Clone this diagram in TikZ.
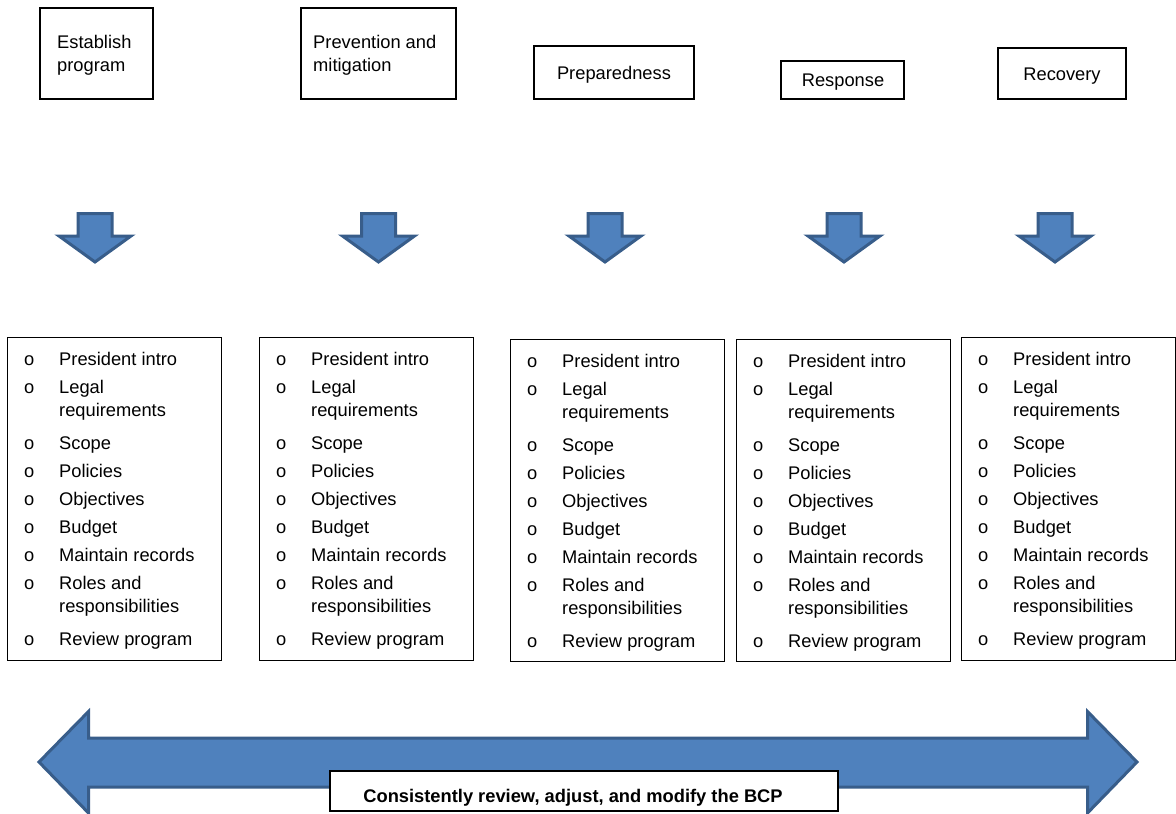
\documentclass[tikz,border=0pt]{standalone}
\usepackage{fontspec}
\setmainfont{Liberation Sans}
\definecolor{arrowfill}{HTML}{4F81BD}
\definecolor{arrowline}{HTML}{385D8A}
\newcommand\mylist[3]{%
  \foreach \t/\yy/\bb [count=\k] in {{President intro}/365/o, {Legal}/393/o, {requirements}/416/{}, {Scope}/449/o, {Policies}/477/o, {Objectives}/505/o, {Budget}/533/o, {Maintain records}/561/o, {Roles and}/589/o, {responsibilities}/612/{}, {Review program}/645/o} {
    \node[bul] (#1b\k) at (#2+17,\yy+#3) {\bb};
    \node[txt] (#1t\k) at (#2+52,\yy+#3) {\t};
  }}
\begin{document}
\begin{tikzpicture}[x=1pt,y=-1pt,
  box/.style={draw,line width=1.4pt,inner sep=0pt},
  topbox/.style={box},
  txt/.style={inner sep=0pt,font=\fontsize{18.3}{23}\selectfont,anchor=base west},
  bul/.style={inner sep=0pt,font=\fontsize{18.3}{23}\selectfont,anchor=base west},
  bluearrow/.style={fill=arrowfill,draw=arrowline,line width=3pt,line join=miter},
]
\useasboundingbox (0,0) rectangle (1176,814);
\fill[white] (0,0) rectangle (1176,814);

% top boxes
\node[topbox,minimum width=113,minimum height=91] (s1) at (96.5,53.5) {};
\node[topbox,minimum width=155,minimum height=91] (s2) at (378.5,53.5) {};
\node[topbox,minimum width=160,minimum height=53] (s3) at (614,72.5) {};
\node[topbox,minimum width=123,minimum height=38] (s4) at (842.5,80) {};
\node[topbox,minimum width=128,minimum height=51] (s5) at (1062,73.5) {};
\node[txt] (s1a) at (57,48) {Establish};
\node[txt] (s1b) at (57,71) {program};
\node[txt] (s2a) at (313,48) {Prevention and};
\node[txt] (s2b) at (313,71) {mitigation};
\node[txt,anchor=base] (s3a) at (614,79) {Preparedness};
\node[txt,anchor=base] (s4a) at (843,86) {Response};
\node[txt,anchor=base] (s5a) at (1062,80) {Recovery};

% down arrows
\foreach \c in {95,378.5,605,844,1055} {
  \draw[bluearrow] (\c-17,213.5) -- (\c+17,213.5) -- (\c+17,236) -- (\c+36,236) -- (\c,262) -- (\c-36,236) -- (\c-17,236) -- cycle;
}

% list boxes
\node[box,minimum width=214,minimum height=323,anchor=north west] (l1) at (7,337) {};
\node[box,minimum width=214,minimum height=323,anchor=north west] (l2) at (259,337) {};
\node[box,minimum width=214,minimum height=322,anchor=north west] (l3) at (510,339) {};
\node[box,minimum width=214,minimum height=322,anchor=north west] (l4) at (736,339) {};
\node[box,minimum width=214,minimum height=323,anchor=north west] (l5) at (961,337) {};

\mylist{a}{7}{0}
\mylist{b}{259}{0}
\mylist{c}{510}{2}
\mylist{d}{736}{2}
\mylist{e}{961}{0}

% double arrow
\draw[bluearrow] (39,762) -- (88.5,711.5) -- (88.5,738) -- (1087.5,738) -- (1087.5,711.5) -- (1137,762) -- (1087.5,813) -- (1087.5,787) -- (88.5,787) -- (88.5,813) -- cycle;

\node[box,fill=white,minimum width=508,minimum height=40] (lab) at (584,791) {};
\node[inner sep=0pt,anchor=base,font=\bfseries\fontsize{18.3}{20}\selectfont] (labt) at (573,802.5) {Consistently review, adjust, and modify the BCP};
\end{tikzpicture}
\end{document}
